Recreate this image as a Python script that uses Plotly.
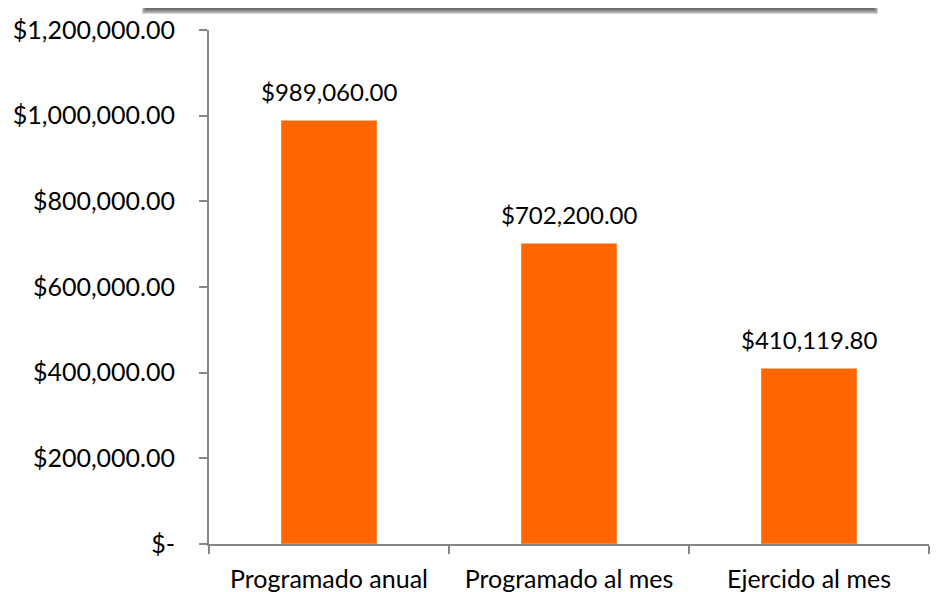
import plotly.graph_objects as go

categories = ["Programado anual", "Programado al mes", "Ejercido al mes"]
values = [989060.00, 702200.00, 410119.80]
value_labels = ["$989,060.00", "$702,200.00", "$410,119.80"]
ytick_vals = [0, 200000, 400000, 600000, 800000, 1000000, 1200000]
ytick_text = ["$-", "$200,000.00", "$400,000.00", "$600,000.00", "$800,000.00", "$1,000,000.00", "$1,200,000.00"]

OFF = 8  # browser body margin
W, H = 945 - OFF, 592 - OFF
L, R, T, B = 209 - OFF, 16, 30 - OFF, 48
pw, ph = W - L - R, H - T - B

def px2x(px):
    return (px - OFF - L) / pw

def py2y(py):
    return (H - B - (py - OFF)) / ph

fig = go.Figure(go.Bar(
    x=categories, y=values,
    marker_color="#FF6600", width=0.4, cliponaxis=False,
))

for c, v, t in zip(categories, values, value_labels):
    fig.add_annotation(x=c, y=v, text=t, showarrow=False, yanchor="bottom",
                       yshift=12, font=dict(size=24, color="#000000"))

shapes = []
for k in range(1, 7):
    shapes.append(dict(type="rect", xref="paper", yref="paper",
                       x0=px2x(142 + (6 - k) * 0.8), x1=px2x(878 - (6 - k) * 0.8),
                       y0=py2y(8 + k), y1=py2y(0),
                       fillcolor="#383838", opacity=0.2, line_width=0, layer="above"))

fig.update_layout(
    width=W, height=H,
    margin=dict(l=L, r=R, t=T, b=B, autoexpand=False),
    paper_bgcolor="white", plot_bgcolor="white",
    font=dict(family="Lato, Open Sans, sans-serif", size=25, color="#000000"),
    showlegend=False,
    shapes=shapes,
    xaxis=dict(showline=True, linecolor="#868686", linewidth=2, automargin=False,
               ticks="outside", tickson="boundaries", ticklen=8, tickcolor="#868686", tickwidth=2,
               showgrid=False, tickfont=dict(size=25), ticklabelstandoff=12),
    yaxis=dict(range=[0, 1200000], tickvals=ytick_vals, ticktext=ytick_text, automargin=False,
               showline=True, linecolor="#868686", linewidth=2,
               ticks="outside", ticklen=8, tickcolor="#868686", tickwidth=2,
               showgrid=False, zeroline=False, tickfont=dict(size=25), ticklabelstandoff=19),
    bargap=0.6,
)

fig.write_html("out.html")
